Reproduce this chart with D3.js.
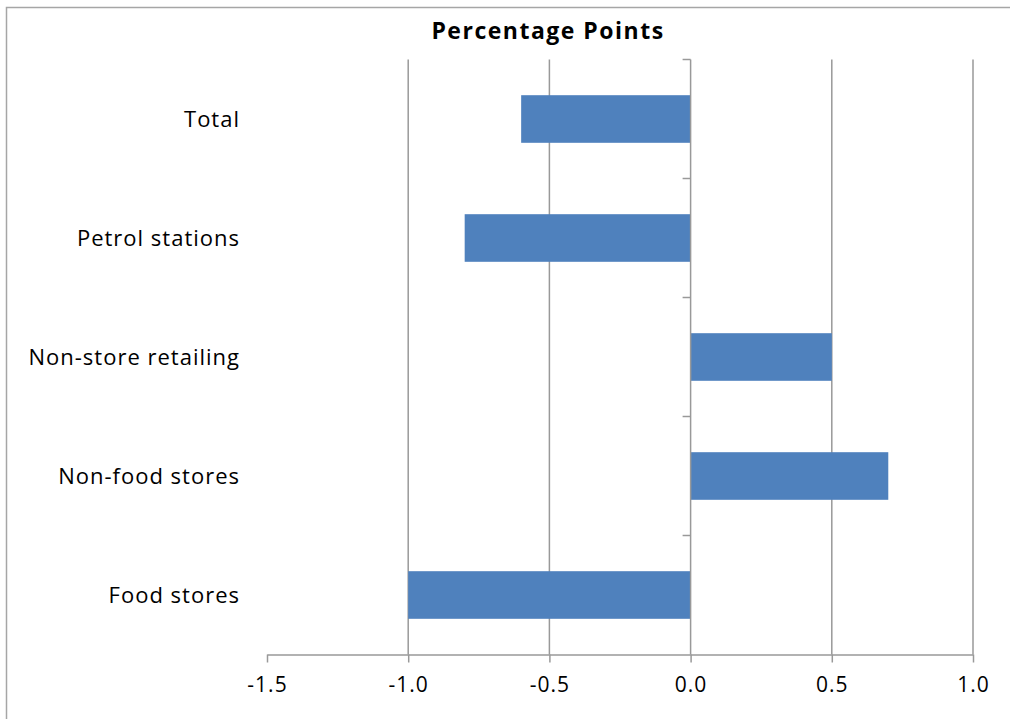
<!DOCTYPE html>
<html>
<head>
<meta charset="utf-8">
<script src="https://cdn.jsdelivr.net/npm/d3@7"></script>
<style>
  body { margin: 0; background: #fff; }
  svg { display: block; font-family: "Open Sans", sans-serif; }
</style>
</head>
<body>
<div id="chart"></div>
<script>
const categories = ["Total", "Petrol stations", "Non-store retailing", "Non-food stores", "Food stores"];
const values = [-0.6, -0.8, 0.5, 0.7, -1.0];
const xTicks = [-1.5, -1.0, -0.5, 0.0, 0.5, 1.0];
const title = "Percentage Points";

const width = 1010, height = 719;
const margin = { top: 59.5, left: 267, right: 37, bottom: 64.5 };

const svg = d3.select("#chart").append("svg")
  .attr("width", width)
  .attr("height", height);

// chart border (left + top visible)
svg.append("rect")
  .attr("x", 6.5).attr("y", 7.5)
  .attr("width", width + 20).attr("height", height + 20)
  .attr("fill", "none")
  .attr("stroke", "#a6a6a6")
  .attr("stroke-width", 1.5);

const x = d3.scaleLinear()
  .domain([-1.5, 1.0])
  .range([margin.left, width - margin.right]);

const y = d3.scaleBand()
  .domain(categories)
  .range([margin.top, height - margin.bottom])
  .paddingInner(0.6)
  .paddingOuter(0.3);

const gridColor = "#999";

// vertical gridlines
svg.append("g")
  .selectAll("line")
  .data(xTicks.filter(d => d !== -1.5 && d !== 0))
  .join("line")
  .attr("x1", d => x(d)).attr("x2", d => x(d))
  .attr("y1", margin.top).attr("y2", height - margin.bottom)
  .attr("stroke", gridColor)
  .attr("stroke-width", 1.5);

// bars
svg.append("g")
  .selectAll("rect")
  .data(categories)
  .join("rect")
  .attr("x", (d, i) => x(Math.min(0, values[i])))
  .attr("width", (d, i) => Math.abs(x(values[i]) - x(0)))
  .attr("y", d => y(d))
  .attr("height", y.bandwidth())
  .attr("fill", "#4f81bd");

// x axis
const xAxis = d3.axisBottom(x)
  .tickValues(xTicks)
  .tickFormat(d3.format(".1f"))
  .tickSize(8)
  .tickSizeOuter(0)
  .tickPadding(15);

svg.append("g")
  .attr("transform", `translate(0,${height - margin.bottom})`)
  .call(xAxis)
  .call(g => g.select(".domain").attr("stroke", gridColor).attr("stroke-width", 1.5))
  .call(g => g.selectAll(".tick line").attr("stroke", gridColor).attr("stroke-width", 1.5))
  .call(g => g.selectAll(".tick text")
    .attr("fill", "#000")
    .attr("font-family", "'Open Sans', sans-serif")
    .attr("font-size", "21px")
    .attr("letter-spacing", "1px")
    .text(d => d < 0 ? "-" + Math.abs(d).toFixed(1) : d.toFixed(1)));

// y axis at zero
const step = y.step();
const boundaries = d3.range(categories.length + 1).map(i => margin.top + i * step);

svg.append("line")
  .attr("x1", x(0)).attr("x2", x(0))
  .attr("y1", margin.top).attr("y2", height - margin.bottom)
  .attr("stroke", gridColor)
  .attr("stroke-width", 1.5);

svg.append("g")
  .selectAll("line")
  .data(boundaries.slice(0, -1))
  .join("line")
  .attr("x1", x(0) - 8).attr("x2", x(0))
  .attr("y1", d => d).attr("y2", d => d)
  .attr("stroke", gridColor)
  .attr("stroke-width", 1.5);

// category labels
svg.append("g")
  .selectAll("text")
  .data(categories)
  .join("text")
  .attr("x", 240)
  .attr("y", d => y(d) + y.bandwidth() / 2)
  .attr("dy", "0.35em")
  .attr("text-anchor", "end")
  .attr("font-size", "22px")
  .attr("letter-spacing", "1px")
  .attr("fill", "#000")
  .text(d => d);

// title
svg.append("text")
  .attr("x", 548)
  .attr("y", 39)
  .attr("text-anchor", "middle")
  .attr("font-size", "23px")
  .attr("font-weight", "bold")
  .attr("letter-spacing", "1.5px")
  .attr("fill", "#000")
  .text(title);
</script>
</body>
</html>
